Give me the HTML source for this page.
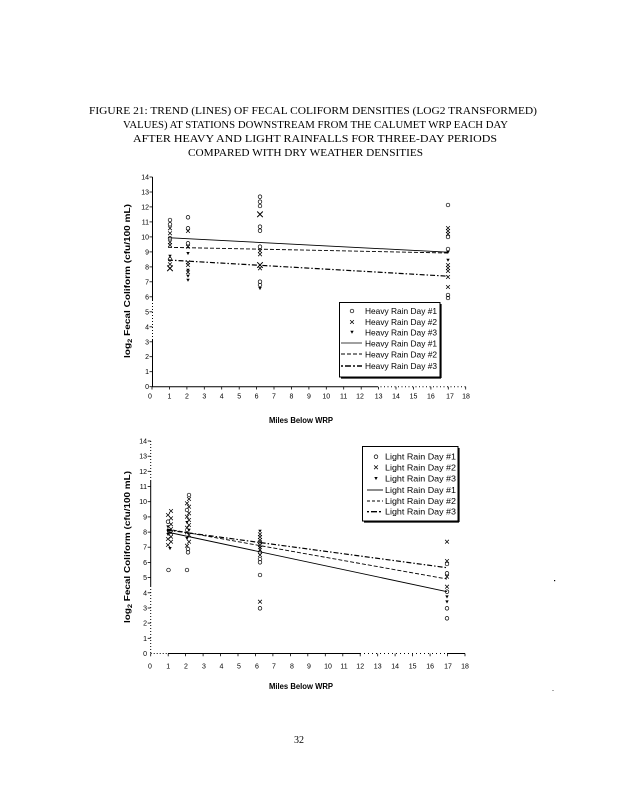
<!DOCTYPE html>
<html>
<head>
<meta charset="utf-8">
<style>
html,body{margin:0;padding:0;background:#fff;}
svg{display:block;}
.t{font-family:"Liberation Serif",serif;font-size:10px;fill:#000;}
.tk{font-family:"Liberation Sans",sans-serif;font-size:7px;fill:#000;}
.ax{font-family:"Liberation Sans",sans-serif;font-size:8px;font-weight:bold;fill:#000;}
.lg{font-family:"Liberation Sans",sans-serif;font-size:8.5px;fill:#000;}
</style>
</head>
<body>
<svg width="619" height="800" viewBox="0 0 619 800" xmlns="http://www.w3.org/2000/svg">
<defs>
<g id="o"><circle r="1.8" fill="none" stroke="#000" stroke-width="0.7"/></g>
<g id="x"><path d="M-1.9,-1.9L1.9,1.9M-1.9,1.9L1.9,-1.9" stroke="#000" stroke-width="0.75"/></g>
<g id="X"><path d="M-2.8,-2.8L2.8,2.8M-2.8,2.8L2.8,-2.8" stroke="#000" stroke-width="1"/></g>
<g id="f"><path d="M-1.7,-1.3L1.7,-1.3L0,1.8Z" fill="#000"/></g>
</defs>
<rect width="619" height="800" fill="#fff"/>

<!-- Title -->
<text class="t" x="89" y="114" textLength="448" lengthAdjust="spacingAndGlyphs">FIGURE 21: TREND (LINES) OF FECAL COLIFORM DENSITIES (LOG2 TRANSFORMED)</text>
<text class="t" x="123" y="128" textLength="385" lengthAdjust="spacingAndGlyphs">VALUES) AT STATIONS DOWNSTREAM FROM THE CALUMET WRP EACH DAY</text>
<text class="t" x="133" y="142" textLength="364" lengthAdjust="spacingAndGlyphs">AFTER HEAVY AND LIGHT RAINFALLS FOR THREE-DAY PERIODS</text>
<text class="t" x="188" y="156" textLength="235" lengthAdjust="spacingAndGlyphs">COMPARED WITH DRY WEATHER DENSITIES</text>

<!-- ================= CHART 1 ================= -->
<g stroke="#000" stroke-width="1" fill="none">
  <line x1="152.5" y1="177" x2="152.5" y2="300"/>
  <line x1="152.5" y1="300" x2="152.5" y2="340" stroke-dasharray="1,2"/>
  <line x1="152.5" y1="340" x2="152.5" y2="387"/>
  <line x1="152" y1="386.7" x2="377" y2="386.7"/>
  <line x1="377" y1="386.7" x2="466" y2="386.7" stroke-dasharray="1,2.5"/>
</g>
<g stroke="#000" stroke-width="0.8">
  <line x1="149.5" y1="177" x2="152.5" y2="177"/>
  <line x1="149.5" y1="192" x2="152.5" y2="192"/>
  <line x1="149.5" y1="206.9" x2="152.5" y2="206.9"/>
  <line x1="149.5" y1="221.9" x2="152.5" y2="221.9"/>
  <line x1="149.5" y1="236.9" x2="152.5" y2="236.9"/>
  <line x1="149.5" y1="251.9" x2="152.5" y2="251.9"/>
  <line x1="149.5" y1="266.9" x2="152.5" y2="266.9"/>
  <line x1="149.5" y1="281.8" x2="152.5" y2="281.8"/>
  <line x1="149.5" y1="296.8" x2="152.5" y2="296.8"/>
  <line x1="149.5" y1="311.8" x2="152.5" y2="311.8"/>
  <line x1="149.5" y1="326.8" x2="152.5" y2="326.8"/>
  <line x1="149.5" y1="341.8" x2="152.5" y2="341.8"/>
  <line x1="149.5" y1="356.7" x2="152.5" y2="356.7"/>
  <line x1="149.5" y1="371.7" x2="152.5" y2="371.7"/>
  <line x1="149.5" y1="386.7" x2="152.5" y2="386.7"/>
</g>
<g stroke="#000" stroke-width="0.8">
  <line x1="152" y1="386.7" x2="152" y2="389.5"/>
  <line x1="169.4" y1="386.7" x2="169.4" y2="389.5"/>
  <line x1="186.9" y1="386.7" x2="186.9" y2="389.5"/>
  <line x1="204.3" y1="386.7" x2="204.3" y2="389.5"/>
  <line x1="221.7" y1="386.7" x2="221.7" y2="389.5"/>
  <line x1="239.2" y1="386.7" x2="239.2" y2="389.5"/>
  <line x1="256.6" y1="386.7" x2="256.6" y2="389.5"/>
  <line x1="274" y1="386.7" x2="274" y2="389.5"/>
  <line x1="291.4" y1="386.7" x2="291.4" y2="389.5"/>
  <line x1="308.9" y1="386.7" x2="308.9" y2="389.5"/>
  <line x1="326.3" y1="386.7" x2="326.3" y2="389.5"/>
  <line x1="343.7" y1="386.7" x2="343.7" y2="389.5"/>
  <line x1="361.2" y1="386.7" x2="361.2" y2="389.5"/>
  <line x1="378.6" y1="386.7" x2="378.6" y2="389.5"/>
  <line x1="396" y1="386.7" x2="396" y2="389.5"/>
  <line x1="413.5" y1="386.7" x2="413.5" y2="389.5"/>
  <line x1="430.9" y1="386.7" x2="430.9" y2="389.5"/>
  <line x1="448.3" y1="386.7" x2="448.3" y2="389.5"/>
  <line x1="465.7" y1="386.7" x2="465.7" y2="389.5"/>
</g>
<g class="tk" text-anchor="end">
  <text x="149" y="179.5">14</text>
  <text x="149" y="194.5">13</text>
  <text x="149" y="209.4">12</text>
  <text x="149" y="224.4">11</text>
  <text x="149" y="239.4">10</text>
  <text x="149" y="254.4">9</text>
  <text x="149" y="269.4">8</text>
  <text x="149" y="284.3">7</text>
  <text x="149" y="299.3">6</text>
  <text x="149" y="314.3">5</text>
  <text x="149" y="329.3">4</text>
  <text x="149" y="344.3">3</text>
  <text x="149" y="359.2">2</text>
  <text x="149" y="374.2">1</text>
  <text x="149" y="389.2">0</text>
</g>
<g class="tk" text-anchor="middle">
  <text x="150" y="398.5">0</text>
  <text x="169.4" y="398.5">1</text>
  <text x="186.9" y="398.5">2</text>
  <text x="204.3" y="398.5">3</text>
  <text x="221.7" y="398.5">4</text>
  <text x="239.2" y="398.5">5</text>
  <text x="256.6" y="398.5">6</text>
  <text x="274" y="398.5">7</text>
  <text x="291.4" y="398.5">8</text>
  <text x="308.9" y="398.5">9</text>
  <text x="326.3" y="398.5">10</text>
  <text x="343.7" y="398.5">11</text>
  <text x="360" y="398.5">12</text>
  <text x="378.6" y="398.5">13</text>
  <text x="396" y="398.5">14</text>
  <text x="413.5" y="398.5">15</text>
  <text x="430.9" y="398.5">16</text>
  <text x="450" y="398.5">17</text>
  <text x="466" y="398.5">18</text>
</g>
<text class="ax" x="301" y="423" text-anchor="middle" textLength="64" lengthAdjust="spacingAndGlyphs">Miles Below WRP</text>
<text class="ax" transform="translate(130,281) rotate(-90)" text-anchor="middle" textLength="154" lengthAdjust="spacingAndGlyphs">log<tspan font-size="6" dy="2">2</tspan><tspan dy="-2"> Fecal Coliform (cfu/100 mL)</tspan></text>

<!-- chart1 trend lines -->
<g fill="none" stroke="#000">
  <line x1="168" y1="237.7" x2="448" y2="252.2" stroke-width="0.9"/>
  <line x1="168" y1="247.3" x2="448" y2="253" stroke-width="0.9" stroke-dasharray="4,2"/>
  <line x1="168" y1="260" x2="448" y2="276.2" stroke-width="1.2" stroke-dasharray="5,2,1.5,2"/>
</g>

<!-- chart1 points -->
<use href="#o" x="170" y="220"/><use href="#o" x="170" y="224.3"/><use href="#x" x="170" y="228.3"/>
<use href="#x" x="170" y="233.3"/><use href="#o" x="170" y="238.3"/><use href="#x" x="170" y="242.3"/>
<use href="#x" x="170" y="245"/><use href="#f" x="170" y="256"/><use href="#o" x="170" y="259.3"/>
<use href="#x" x="170" y="264.3"/><use href="#X" x="170" y="268.3"/>

<use href="#o" x="188" y="217.3"/><use href="#o" x="188" y="228.3"/><use href="#x" x="188" y="231"/>
<use href="#o" x="188" y="243.3"/><use href="#x" x="188" y="246.7"/><use href="#f" x="188" y="253.3"/>
<use href="#x" x="188" y="262.3"/><use href="#x" x="188" y="265"/><use href="#f" x="188" y="270"/>
<use href="#x" x="188" y="272.3"/><use href="#f" x="188" y="276"/><use href="#f" x="188" y="280"/>

<use href="#o" x="260" y="196.7"/><use href="#o" x="260" y="201.7"/><use href="#o" x="260" y="206"/>
<use href="#X" x="260" y="214.3"/><use href="#o" x="260" y="226.7"/><use href="#o" x="260" y="230.7"/>
<use href="#o" x="260" y="246.7"/><use href="#x" x="260" y="251"/><use href="#x" x="260" y="254.3"/>
<use href="#X" x="260" y="265"/><use href="#x" x="260" y="268.3"/><use href="#o" x="260" y="281.7"/>
<use href="#o" x="260" y="285"/><use href="#f" x="260" y="288.3"/>

<use href="#o" x="448" y="205"/><use href="#x" x="448" y="228"/><use href="#x" x="448" y="231"/>
<use href="#x" x="448" y="234"/><use href="#o" x="448" y="237"/><use href="#o" x="448" y="249"/>
<use href="#f" x="448" y="252"/><use href="#f" x="448" y="260"/><use href="#x" x="448" y="265"/>
<use href="#x" x="448" y="268"/><use href="#x" x="448" y="271"/><use href="#x" x="448" y="277"/>
<use href="#x" x="448" y="287"/><use href="#o" x="448" y="295"/><use href="#o" x="448" y="298"/>

<!-- legend 1 -->
<rect x="339.5" y="302.5" width="100.5" height="74.5" fill="#fff" stroke="#000" stroke-width="1"/>
<line x1="441" y1="304" x2="441" y2="378" stroke="#000" stroke-width="1.2"/>
<line x1="341" y1="378" x2="441" y2="378" stroke="#000" stroke-width="1.2"/>
<use href="#o" x="352" y="311"/>
<use href="#x" x="352" y="322"/>
<use href="#f" x="352" y="332"/>
<line x1="341" y1="343" x2="362" y2="343" stroke="#000" stroke-width="0.8"/>
<line x1="341" y1="354" x2="362" y2="354" stroke="#000" stroke-width="0.9" stroke-dasharray="4,2"/>
<line x1="341" y1="366" x2="362" y2="366" stroke="#000" stroke-width="1.4" stroke-dasharray="2,2,6,2"/>
<g class="lg">
  <text x="365" y="314" textLength="72" lengthAdjust="spacingAndGlyphs">Heavy Rain Day #1</text>
  <text x="365" y="325" textLength="72" lengthAdjust="spacingAndGlyphs">Heavy Rain Day #2</text>
  <text x="365" y="335.5" textLength="72" lengthAdjust="spacingAndGlyphs">Heavy Rain Day #3</text>
  <text x="365" y="346.5" textLength="72" lengthAdjust="spacingAndGlyphs">Heavy Rain Day #1</text>
  <text x="365" y="357.5" textLength="72" lengthAdjust="spacingAndGlyphs">Heavy Rain Day #2</text>
  <text x="365" y="369" textLength="72" lengthAdjust="spacingAndGlyphs">Heavy Rain Day #3</text>
</g>

<!-- ================= CHART 2 ================= -->
<g stroke="#000" stroke-width="1" fill="none">
  <line x1="150.7" y1="441" x2="150.7" y2="480" stroke-dasharray="1,2"/>
  <line x1="150.7" y1="480" x2="150.7" y2="586"/>
  <line x1="150.7" y1="586" x2="150.7" y2="654" stroke-dasharray="1,2"/>
  <line x1="150.7" y1="653.5" x2="168" y2="653.5" stroke-dasharray="1,2"/>
  <line x1="168" y1="653.5" x2="360" y2="653.5"/>
  <line x1="360" y1="653.5" x2="447" y2="653.5" stroke-dasharray="1,3"/>
  <line x1="447" y1="653.5" x2="465" y2="653.5"/>
</g>
<g stroke="#000" stroke-width="0.8">
  <line x1="147.7" y1="441" x2="150.7" y2="441"/>
  <line x1="147.7" y1="456.2" x2="150.7" y2="456.2"/>
  <line x1="147.7" y1="471.3" x2="150.7" y2="471.3"/>
  <line x1="147.7" y1="486.5" x2="150.7" y2="486.5"/>
  <line x1="147.7" y1="501.7" x2="150.7" y2="501.7"/>
  <line x1="147.7" y1="516.9" x2="150.7" y2="516.9"/>
  <line x1="147.7" y1="532.1" x2="150.7" y2="532.1"/>
  <line x1="147.7" y1="547.2" x2="150.7" y2="547.2"/>
  <line x1="147.7" y1="562.4" x2="150.7" y2="562.4"/>
  <line x1="147.7" y1="577.6" x2="150.7" y2="577.6"/>
  <line x1="147.7" y1="592.8" x2="150.7" y2="592.8"/>
  <line x1="147.7" y1="608" x2="150.7" y2="608"/>
  <line x1="147.7" y1="623.1" x2="150.7" y2="623.1"/>
  <line x1="147.7" y1="638.3" x2="150.7" y2="638.3"/>
</g>
<g stroke="#000" stroke-width="0.8">
  <line x1="150.7" y1="653.5" x2="150.7" y2="656.3"/>
  <line x1="168.2" y1="653.5" x2="168.2" y2="656.3"/>
  <line x1="185.6" y1="653.5" x2="185.6" y2="656.3"/>
  <line x1="203.1" y1="653.5" x2="203.1" y2="656.3"/>
  <line x1="220.5" y1="653.5" x2="220.5" y2="656.3"/>
  <line x1="238" y1="653.5" x2="238" y2="656.3"/>
  <line x1="255.5" y1="653.5" x2="255.5" y2="656.3"/>
  <line x1="272.9" y1="653.5" x2="272.9" y2="656.3"/>
  <line x1="290.4" y1="653.5" x2="290.4" y2="656.3"/>
  <line x1="307.8" y1="653.5" x2="307.8" y2="656.3"/>
  <line x1="325.3" y1="653.5" x2="325.3" y2="656.3"/>
  <line x1="342.8" y1="653.5" x2="342.8" y2="656.3"/>
  <line x1="360.2" y1="653.5" x2="360.2" y2="656.3"/>
  <line x1="377.7" y1="653.5" x2="377.7" y2="656.3"/>
  <line x1="395.1" y1="653.5" x2="395.1" y2="656.3"/>
  <line x1="412.6" y1="653.5" x2="412.6" y2="656.3"/>
  <line x1="430.1" y1="653.5" x2="430.1" y2="656.3"/>
  <line x1="447.5" y1="653.5" x2="447.5" y2="656.3"/>
  <line x1="465" y1="653.5" x2="465" y2="656.3"/>
</g>
<g class="tk" text-anchor="end">
  <text x="147" y="443.5">14</text>
  <text x="147" y="458.7">13</text>
  <text x="147" y="473.8">12</text>
  <text x="147" y="489">11</text>
  <text x="147" y="504.2">10</text>
  <text x="147" y="519.4">9</text>
  <text x="147" y="534.6">8</text>
  <text x="147" y="549.7">7</text>
  <text x="147" y="564.9">6</text>
  <text x="147" y="580.1">5</text>
  <text x="147" y="595.3">4</text>
  <text x="147" y="610.5">3</text>
  <text x="147" y="625.6">2</text>
  <text x="147" y="640.8">1</text>
  <text x="147" y="656">0</text>
</g>
<g class="tk" text-anchor="middle">
  <text x="150" y="668.5">0</text>
  <text x="168.2" y="668.5">1</text>
  <text x="186" y="668.5">2</text>
  <text x="204" y="668.5">3</text>
  <text x="221.5" y="668.5">4</text>
  <text x="239" y="668.5">5</text>
  <text x="257" y="668.5">6</text>
  <text x="274" y="668.5">7</text>
  <text x="292" y="668.5">8</text>
  <text x="309" y="668.5">9</text>
  <text x="328" y="668.5">10</text>
  <text x="344" y="668.5">11</text>
  <text x="360.2" y="668.5">12</text>
  <text x="377.7" y="668.5">13</text>
  <text x="395.1" y="668.5">14</text>
  <text x="412.6" y="668.5">15</text>
  <text x="430.1" y="668.5">16</text>
  <text x="448" y="668.5">17</text>
  <text x="465" y="668.5">18</text>
</g>
<text class="ax" x="301" y="689" text-anchor="middle" textLength="64" lengthAdjust="spacingAndGlyphs">Miles Below WRP</text>
<text class="ax" transform="translate(130,547) rotate(-90)" text-anchor="middle" textLength="152" lengthAdjust="spacingAndGlyphs">log<tspan font-size="6" dy="2">2</tspan><tspan dy="-2"> Fecal Coliform (cfu/100 mL)</tspan></text>

<!-- chart2 trend lines -->
<g fill="none" stroke="#000">
  <line x1="167" y1="532" x2="447" y2="591.7" stroke-width="0.9"/>
  <line x1="167" y1="529" x2="447" y2="579" stroke-width="0.9" stroke-dasharray="4,2"/>
  <line x1="167" y1="530" x2="447" y2="567.7" stroke-width="1.2" stroke-dasharray="5,2,1.5,2"/>
</g>

<!-- chart2 points -->
<use href="#x" x="171" y="511"/><use href="#x" x="168" y="515"/><use href="#x" x="171" y="518.3"/>
<use href="#o" x="168" y="521.7"/><use href="#x" x="171" y="524.3"/><use href="#f" x="168" y="526.7"/>
<use href="#x" x="171" y="529"/><use href="#f" x="168" y="531"/><use href="#x" x="171" y="532.7"/>
<use href="#f" x="168" y="534.3"/><use href="#x" x="171" y="536.7"/><use href="#x" x="168" y="539"/>
<use href="#x" x="171" y="541.7"/><use href="#x" x="168" y="545"/><use href="#f" x="170" y="548.3"/>
<use href="#o" x="168.5" y="570"/>

<use href="#o" x="189" y="495"/><use href="#x" x="189" y="499"/><use href="#x" x="187" y="503.3"/>
<use href="#x" x="189" y="506.7"/><use href="#o" x="187" y="510"/><use href="#x" x="189" y="513.3"/>
<use href="#x" x="187" y="516.7"/><use href="#x" x="189" y="520"/><use href="#f" x="187" y="522.3"/>
<use href="#x" x="189" y="525"/><use href="#x" x="187" y="527.7"/><use href="#f" x="189" y="530"/>
<use href="#x" x="187" y="532.3"/><use href="#x" x="189" y="535"/><use href="#f" x="187" y="538.3"/>
<use href="#x" x="189" y="541.7"/><use href="#x" x="187" y="545.7"/><use href="#o" x="188" y="549"/>
<use href="#o" x="188" y="552.3"/><use href="#o" x="187" y="570"/>

<use href="#f" x="260" y="531"/><use href="#x" x="260" y="534.3"/><use href="#x" x="260" y="537"/>
<use href="#x" x="260" y="540"/><use href="#x" x="260" y="542.3"/><use href="#x" x="260" y="545"/>
<use href="#f" x="260" y="547.7"/><use href="#x" x="260" y="550"/><use href="#o" x="260" y="552.3"/>
<use href="#x" x="260" y="555"/><use href="#o" x="260" y="559"/><use href="#o" x="260" y="562.3"/>
<use href="#o" x="260" y="575"/><use href="#x" x="260" y="601.7"/><use href="#o" x="260" y="608.3"/>

<use href="#x" x="447" y="541.7"/><use href="#x" x="447" y="561"/><use href="#o" x="447" y="564"/>
<use href="#o" x="447" y="573.3"/><use href="#x" x="447" y="576.7"/><use href="#x" x="447" y="586.7"/>
<use href="#o" x="447" y="591.7"/><use href="#f" x="447" y="596.7"/><use href="#f" x="447" y="601.7"/>
<use href="#o" x="447" y="608.3"/><use href="#o" x="447" y="618.3"/>

<!-- legend 2 -->
<rect x="362.5" y="446.5" width="95.5" height="74.5" fill="#fff" stroke="#000" stroke-width="1"/>
<line x1="459" y1="448" x2="459" y2="522" stroke="#000" stroke-width="1.2"/>
<line x1="364" y1="522" x2="459" y2="522" stroke="#000" stroke-width="1.2"/>
<use href="#o" x="376" y="456.7"/>
<use href="#x" x="376" y="467.3"/>
<use href="#f" x="376" y="478.3"/>
<line x1="367" y1="490" x2="383" y2="490" stroke="#000" stroke-width="0.9"/>
<line x1="367" y1="501" x2="383" y2="501" stroke="#000" stroke-width="0.9" stroke-dasharray="3,2"/>
<line x1="367" y1="511.7" x2="383" y2="511.7" stroke="#000" stroke-width="1.4" stroke-dasharray="2,2,6,2"/>
<g class="lg">
  <text x="385" y="459.7" textLength="71" lengthAdjust="spacingAndGlyphs">Light Rain Day #1</text>
  <text x="385" y="470.3" textLength="71" lengthAdjust="spacingAndGlyphs">Light Rain Day #2</text>
  <text x="385" y="481.3" textLength="71" lengthAdjust="spacingAndGlyphs">Light Rain Day #3</text>
  <text x="385" y="493" textLength="71" lengthAdjust="spacingAndGlyphs">Light Rain Day #1</text>
  <text x="385" y="504" textLength="71" lengthAdjust="spacingAndGlyphs">Light Rain Day #2</text>
  <text x="385" y="514.7" textLength="71" lengthAdjust="spacingAndGlyphs">Light Rain Day #3</text>
</g>

<!-- noise marks -->
<rect x="554" y="580" width="1.2" height="1.2" fill="#000"/>
<rect x="552.5" y="690" width="1" height="1" fill="#555"/>

<!-- page number -->
<text class="t" x="299" y="743" text-anchor="middle">32</text>
</svg>
</body>
</html>
